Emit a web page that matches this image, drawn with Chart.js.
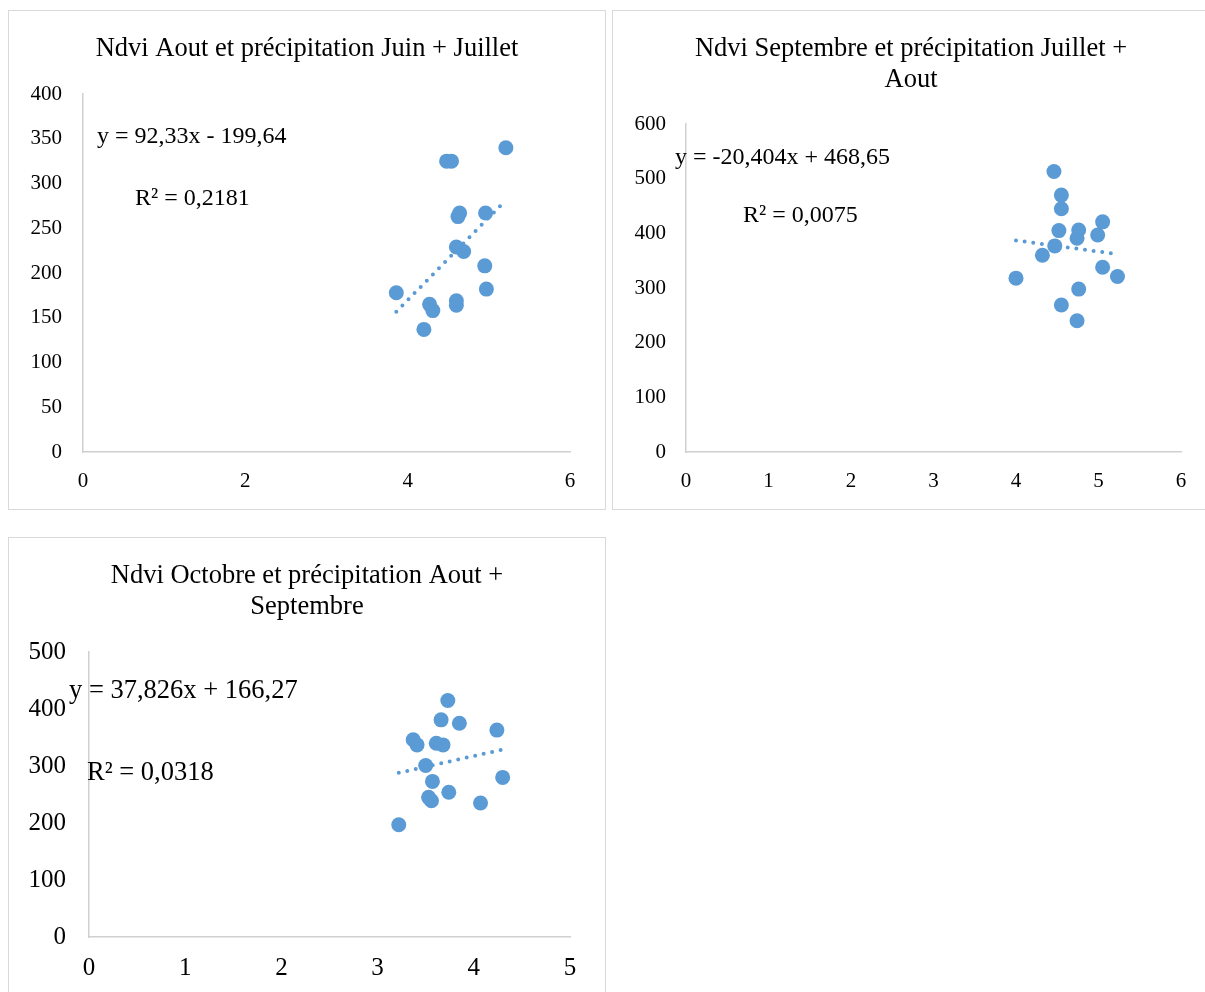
<!DOCTYPE html>
<html><head><meta charset="utf-8">
<script src="https://cdn.jsdelivr.net/npm/chart.js@4.4.1/dist/chart.umd.min.js"></script>
<style>
html,body{margin:0;padding:0;background:#fff;overflow:hidden;width:1205px;height:992px;}
.box{position:absolute;border:1px solid #d9d9d9;width:596px;height:498px;background:#fff;}
canvas{display:block;}
</style></head><body>
<div class="box" style="left:8px;top:10px"><canvas id="c1" width="596" height="498"></canvas></div>
<div class="box" style="left:612px;top:10px"><canvas id="c2" width="596" height="498"></canvas></div>
<div class="box" style="left:8px;top:537px"><canvas id="c3" width="596" height="498"></canvas></div>
<script>
// ---------- Chart 1 ----------
const chart1Title = ['Ndvi Aout et précipitation Juin + Juillet'];
const chart1X = [5.21, 4.48, 4.54, 4.62, 4.64, 4.96, 4.60, 4.69, 4.95, 4.97, 3.86, 4.27, 4.31, 4.60, 4.60, 4.20];
const chart1Y = [340, 325, 325, 263, 267, 267, 229, 224, 208, 182, 178, 165, 158, 169, 164, 137];
const chart1XTicks = [0, 2, 4, 6];
const chart1YTicks = [0, 50, 100, 150, 200, 250, 300, 350, 400];
const chart1Slope = 92.33;
const chart1Intercept = -199.64;
const chart1Equation = 'y = 92,33x - 199,64';
const chart1R2 = 'R² = 0,2181';

// ---------- Chart 2 ----------
const chart2Title = ['Ndvi Septembre et précipitation Juillet +', 'Aout'];
const chart2X = [4.46, 4.55, 4.55, 4.52, 4.76, 4.74, 5.05, 4.99, 4.47, 4.32, 4.00, 5.05, 5.23, 4.76, 4.55, 4.74];
const chart2Y = [513, 470, 445, 405, 406, 391, 421, 397, 377, 360, 318, 338, 321, 298, 269, 240];
const chart2XTicks = [0, 1, 2, 3, 4, 5, 6];
const chart2YTicks = [0, 100, 200, 300, 400, 500, 600];
const chart2Slope = -20.404;
const chart2Intercept = 468.65;
const chart2Equation = 'y = -20,404x + 468,65';
const chart2R2 = 'R² = 0,0075';

// ---------- Chart 3 ----------
const chart3Title = ['Ndvi Octobre et précipitation Aout +', 'Septembre'];
const chart3X = [3.73, 3.66, 3.85, 4.24, 3.37, 3.41, 3.61, 3.68, 3.50, 4.30, 3.57, 3.74, 3.53, 3.56, 4.07, 3.22];
const chart3Y = [415, 381, 375, 363, 346, 337, 340, 337, 301, 280, 273, 254, 245, 239, 235, 197];
const chart3XTicks = [0, 1, 2, 3, 4, 5];
const chart3YTicks = [0, 100, 200, 300, 400, 500];
const chart3Slope = 37.826;
const chart3Intercept = 166.27;
const chart3Equation = 'y = 37,826x + 166,27';
const chart3R2 = 'R² = 0,0318';

const SERIF = '"Liberation Serif", "Times New Roman", Times, serif';
const BLUE = '#5B9BD5';
const AXIS = '#d0d0d0';

const textPlugin = {
  id: 'eqText',
  afterDatasetsDraw(chart, args, opts) {
    const ctx = chart.ctx;
    ctx.save();
    ctx.fillStyle = '#000';
    ctx.textAlign = 'left';
    ctx.textBaseline = 'middle';
    ctx.font = opts.size + 'px ' + SERIF;
    (opts.items || []).forEach(it => ctx.fillText(it.text, it.x, it.y));
    ctx.restore();
  }
};

function makeChart(id, title, xs, ys, xTicks, yTicks, slope, intercept, eq, r2, L) {
  const pts = xs.map((x, i) => ({x: x, y: ys[i]}));
  const xmin = Math.min(...xs), xmax = Math.max(...xs);
  const trend = [{x: xmin, y: slope * xmin + intercept}, {x: xmax, y: slope * xmax + intercept}];
  return new Chart(document.getElementById(id), {
    type: 'scatter',
    data: {
      datasets: [
        {type: 'line', data: trend, borderColor: BLUE, borderWidth: 4, borderDash: [0, 8.7],
         borderCapStyle: 'round', pointRadius: 0, fill: false, tension: 0},
        {data: pts, backgroundColor: BLUE, borderWidth: 0, pointRadius: 7.5, pointHoverRadius: 7.5}
      ]
    },
    options: {
      responsive: false,
      animation: false,
      events: [],
      layout: {padding: 0},
      plugins: {
        legend: {display: false},
        tooltip: {enabled: false},
        title: {
          display: true, text: title, color: '#000',
          font: {family: SERIF, size: 26.5, weight: 'normal', lineHeight: 1.17},
          padding: {top: L.titleTop, bottom: L.titleBottom}
        },
        eqText: {size: L.eqSize, items: [
          {text: eq, x: L.eqX, y: L.eqY},
          {text: r2, x: L.r2X, y: L.r2Y}
        ]}
      },
      scales: {
        x: {
          type: 'linear', min: xTicks[0], max: xTicks[xTicks.length - 1],
          afterFit: s => { s.height = L.xH; s.paddingRight = L.right; },
          grid: {display: false, drawTicks: false},
          border: {display: true, color: AXIS, width: 1.5},
          ticks: {stepSize: xTicks[1] - xTicks[0], color: '#000', padding: L.xPad,
                  font: {family: SERIF, size: L.tick}, maxRotation: 0}
        },
        y: {
          type: 'linear', min: yTicks[0], max: yTicks[yTicks.length - 1],
          afterFit: s => { s.width = L.yW; },
          grid: {display: false, drawTicks: false},
          border: {display: true, color: AXIS, width: 1.5},
          ticks: {stepSize: yTicks[1] - yTicks[0], color: '#000', padding: L.yPad,
                  font: {family: SERIF, size: L.tick}}
        }
      }
    },
    plugins: [textPlugin]
  });
}

makeChart('c1', chart1Title, chart1X, chart1Y, chart1XTicks, chart1YTicks, chart1Slope, chart1Intercept, chart1Equation, chart1R2,
  {right: 35, titleTop: 22.5, titleBottom: 29.5, xH: 57, yW: 74, xPad: 16.4, yPad: 21, tick: 21,
   eqSize: 24, eqX: 88, eqY: 126, r2X: 126, r2Y: 188});
makeChart('c2', chart2Title, chart2X, chart2Y, chart2XTicks, chart2YTicks, chart2Slope, chart2Intercept, chart2Equation, chart2R2,
  {right: 28, titleTop: 22.5, titleBottom: 28.5, xH: 57, yW: 73, xPad: 16.4, yPad: 20, tick: 21,
   eqSize: 24, eqX: 62, eqY: 147, r2X: 130, r2Y: 205});
makeChart('c3', chart3Title, chart3X, chart3Y, chart3XTicks, chart3YTicks, chart3Slope, chart3Intercept, chart3Equation, chart3R2,
  {right: 35, titleTop: 22.5, titleBottom: 29.5, xH: 99, yW: 80, xPad: 16, yPad: 23, tick: 25,
   eqSize: 26.5, eqX: 60, eqY: 153, r2X: 78, r2Y: 235});
</script>
</body></html>
